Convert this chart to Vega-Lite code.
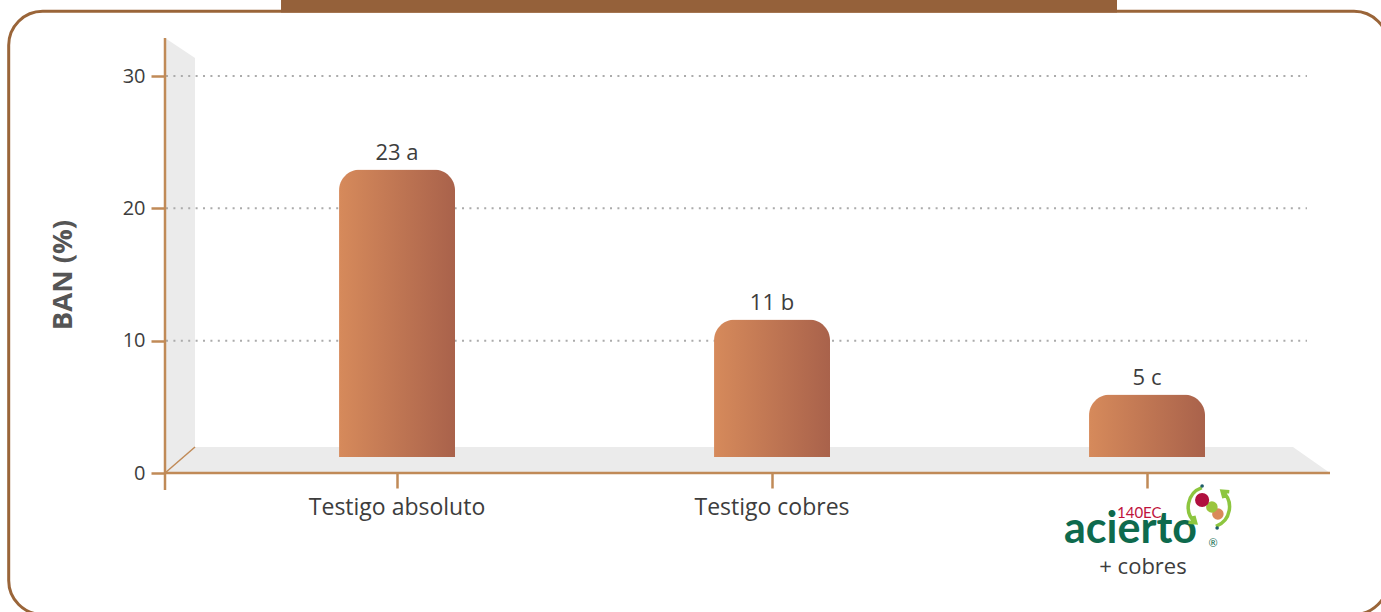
{
  "$schema": "https://vega.github.io/schema/vega-lite/v6.json",
  "width": 1165,
  "height": 397,
  "autosize": {"type": "none"},
  "padding": {"left": 165, "top": 76, "right": 51, "bottom": 139},
  "background": "white",
  "config": {"view": {"stroke": null}, "font": "Open Sans"},
  "datasets": {
    "tratamientos": [
      {"tratamiento": "Testigo absoluto", "ban": 23, "etiqueta": "23 a"},
      {"tratamiento": "Testigo cobres", "ban": 11, "etiqueta": "11 b"},
      {"tratamiento": "acierto 140EC + cobres", "ban": 5, "etiqueta": "5 c"}
    ],
    "pared": [
      {"x": 0.3813, "arriba": 32.87, "abajo": 0},
      {"x": 0.4613, "arriba": 31.36, "abajo": 1.965}
    ],
    "piso": [
      {"x": 0.3813, "arriba": 0, "abajo": 0},
      {"x": 0.4613, "arriba": 1.965, "abajo": 0},
      {"x": 3.3893, "arriba": 1.965, "abajo": 0},
      {"x": 3.488, "arriba": 0, "abajo": 0}
    ],
    "rejilla": [{"v": 10}, {"v": 20}, {"v": 30}],
    "uno": [{}]
  },
  "layer": [
    {
      "layer": [
        {
          "data": {"name": "rejilla"},
          "mark": {"type": "rule", "color": "#ABABAB", "strokeWidth": 2, "strokeDash": [2, 5.4], "opacity": 0},
          "encoding": {
            "x": {"datum": 0.384, "type": "quantitative", "scale": {"domain": [0.3813, 3.488], "nice": false, "zero": false}, "axis": null},
            "x2": {"datum": 3.4266},
            "y": {
              "field": "v", "type": "quantitative",
              "scale": {"domain": [0, 30], "nice": false, "zero": false},
              "axis": {
                "orient": "left",
                "title": "BAN (%)", "values": [0, 10, 20, 30], "domain": false, "grid": false,
                "tickColor": "#C08A57", "tickWidth": 2.5, "tickSize": 14,
                "labelFont": "Open Sans", "labelFontSize": 20, "labelColor": "#3d3d3d", "labelPadding": 6,
                "titleFont": "Open Sans", "titleFontSize": 27.5, "titleFontWeight": "bold", "titleColor": "#555555", "titlePadding": 45
              }
            }
          }
        },
        {
          "data": {"name": "uno"},
          "mark": {"type": "rect", "fill": "transparent", "stroke": "#9A6539", "strokeWidth": 3, "cornerRadius": 34},
          "encoding": {
            "x": {"datum": -0.0355, "type": "quantitative", "scale": {"domain": [0.3813, 3.488], "nice": false, "zero": false}, "axis": null},
            "x2": {"datum": 3.6427},
            "y": {"datum": -10.69, "type": "quantitative", "scale": {"domain": [0, 30], "nice": false, "zero": false}},
            "y2": {"datum": 34.89}
          }
        },
        {
          "data": {"name": "uno"},
          "mark": {"type": "rect", "color": "#95613A"},
          "encoding": {
            "x": {"datum": 0.6907, "type": "quantitative", "scale": {"domain": [0.3813, 3.488], "nice": false, "zero": false}, "axis": null},
            "x2": {"datum": 2.92},
            "y": {"datum": 34.8, "type": "quantitative", "scale": {"domain": [0, 30], "nice": false, "zero": false}},
            "y2": {"datum": 36.5}
          }
        },
        {
          "data": {"name": "pared"},
          "mark": {"type": "area", "color": "#EBEBEB", "opacity": 1},
          "encoding": {
            "x": {"field": "x", "type": "quantitative", "scale": {"domain": [0.3813, 3.488], "nice": false, "zero": false}, "axis": null},
            "y": {"field": "arriba", "type": "quantitative", "scale": {"domain": [0, 30], "nice": false, "zero": false}},
            "y2": {"field": "abajo"}
          }
        },
        {
          "data": {"name": "piso"},
          "mark": {"type": "area", "color": "#EBEBEB", "opacity": 1},
          "encoding": {
            "x": {"field": "x", "type": "quantitative", "scale": {"domain": [0.3813, 3.488], "nice": false, "zero": false}, "axis": null},
            "y": {"field": "arriba", "type": "quantitative", "scale": {"domain": [0, 30], "nice": false, "zero": false}},
            "y2": {"field": "abajo"}
          }
        },
        {
          "data": {"name": "rejilla"},
          "mark": {"type": "rule", "color": "#ABABAB", "strokeWidth": 2, "strokeDash": [2, 5.4]},
          "encoding": {
            "x": {"datum": 0.384, "type": "quantitative", "scale": {"domain": [0.3813, 3.488], "nice": false, "zero": false}, "axis": null},
            "x2": {"datum": 3.4266},
            "y": {"field": "v", "type": "quantitative", "scale": {"domain": [0, 30], "nice": false, "zero": false}}
          }
        },
        {
          "data": {"name": "uno"},
          "mark": {"type": "rule", "color": "#C08A57", "strokeWidth": 1.5},
          "encoding": {
            "x": {"datum": 0.3813, "type": "quantitative", "scale": {"domain": [0.3813, 3.488], "nice": false, "zero": false}, "axis": null},
            "x2": {"datum": 0.4613},
            "y": {"datum": 0, "type": "quantitative", "scale": {"domain": [0, 30], "nice": false, "zero": false}},
            "y2": {"datum": 1.965}
          }
        },
        {
          "data": {"name": "uno"},
          "mark": {"type": "rule", "color": "#C08A57", "strokeWidth": 2.5},
          "encoding": {
            "x": {"datum": 0.3813, "type": "quantitative", "scale": {"domain": [0.3813, 3.488], "nice": false, "zero": false}, "axis": null},
            "y": {"datum": -1.285, "type": "quantitative", "scale": {"domain": [0, 30], "nice": false, "zero": false}},
            "y2": {"datum": 32.87}
          }
        },
        {
          "data": {"name": "uno"},
          "mark": {"type": "rule", "color": "#C08A57", "strokeWidth": 2.5},
          "encoding": {
            "x": {"datum": 0.3813, "type": "quantitative", "scale": {"domain": [0.3813, 3.488], "nice": false, "zero": false}, "axis": null},
            "x2": {"datum": 3.488},
            "y": {"datum": 0, "type": "quantitative", "scale": {"domain": [0, 30], "nice": false, "zero": false}}
          }
        },
        {
          "data": {"name": "uno"},
          "mark": {"type": "text", "text": "acierto", "font": "Lato", "fontWeight": "bold", "fontSize": 43, "color": "#0E6A4D", "align": "center", "baseline": "alphabetic"},
          "encoding": {
            "x": {"datum": 2.956, "type": "quantitative", "scale": {"domain": [0.3813, 3.488], "nice": false, "zero": false}, "axis": null},
            "y": {"datum": -5.29, "type": "quantitative", "scale": {"domain": [0, 30], "nice": false, "zero": false}}
          }
        },
        {
          "data": {"name": "uno"},
          "mark": {"type": "text", "text": "140EC", "font": "Lato", "fontSize": 15, "color": "#C0143C", "align": "left", "baseline": "alphabetic"},
          "encoding": {
            "x": {"datum": 2.92, "type": "quantitative", "scale": {"domain": [0.3813, 3.488], "nice": false, "zero": false}, "axis": null},
            "y": {"datum": -3.4, "type": "quantitative", "scale": {"domain": [0, 30], "nice": false, "zero": false}}
          }
        },
        {
          "data": {"name": "uno"},
          "mark": {"type": "text", "text": "®", "font": "Lato", "fontSize": 11, "color": "#0E6A4D", "align": "center", "baseline": "middle"},
          "encoding": {
            "x": {"datum": 3.176, "type": "quantitative", "scale": {"domain": [0.3813, 3.488], "nice": false, "zero": false}, "axis": null},
            "y": {"datum": -5.4, "type": "quantitative", "scale": {"domain": [0, 30], "nice": false, "zero": false}}
          }
        },
        {
          "data": {"name": "uno"},
          "mark": {"type": "text", "text": "+ cobres", "font": "Open Sans", "fontSize": 22, "color": "#3d3d3d", "align": "center", "baseline": "alphabetic"},
          "encoding": {
            "x": {"datum": 2.9893, "type": "quantitative", "scale": {"domain": [0.3813, 3.488], "nice": false, "zero": false}, "axis": null},
            "y": {"datum": -7.64, "type": "quantitative", "scale": {"domain": [0, 30], "nice": false, "zero": false}}
          }
        },
        {
          "data": {"name": "uno"},
          "mark": {"type": "point", "shape": "circle", "filled": true, "opacity": 1, "size": 20, "color": "#0E6A4D"},
          "encoding": {
            "x": {"datum": 2.904, "type": "quantitative", "scale": {"domain": [0.3813, 3.488], "nice": false, "zero": false}, "axis": null},
            "y": {"datum": -3.02, "type": "quantitative", "scale": {"domain": [0, 30], "nice": false, "zero": false}}
          }
        },
        {
          "data": {"name": "uno"},
          "mark": {"type": "point", "shape": "M -0.34 -0.94 A 1 1 0 0 0 -0.64 0.77 M -0.73 0.43 L -0.64 0.77 L -0.99 0.74 M 0.34 0.94 A 1 1 0 0 0 0.64 -0.77 M 0.73 -0.43 L 0.64 -0.77 L 0.99 -0.74", "filled": false, "opacity": 1, "size": 1700, "stroke": "#8DC63F", "strokeWidth": 3.5},
          "encoding": {
            "x": {"datum": 3.165, "type": "quantitative", "scale": {"domain": [0.3813, 3.488], "nice": false, "zero": false}, "axis": null},
            "y": {"datum": -2.57, "type": "quantitative", "scale": {"domain": [0, 30], "nice": false, "zero": false}}
          }
        },
        {
          "data": {"name": "uno"},
          "mark": {"type": "point", "shape": "circle", "filled": true, "opacity": 1, "size": 133, "color": "#D9895A"},
          "encoding": {
            "x": {"datum": 3.189, "type": "quantitative", "scale": {"domain": [0.3813, 3.488], "nice": false, "zero": false}, "axis": null},
            "y": {"datum": -3.1, "type": "quantitative", "scale": {"domain": [0, 30], "nice": false, "zero": false}}
          }
        },
        {
          "data": {"name": "uno"},
          "mark": {"type": "point", "shape": "circle", "filled": true, "opacity": 1, "size": 133, "color": "#9BC53D"},
          "encoding": {
            "x": {"datum": 3.173, "type": "quantitative", "scale": {"domain": [0.3813, 3.488], "nice": false, "zero": false}, "axis": null},
            "y": {"datum": -2.57, "type": "quantitative", "scale": {"domain": [0, 30], "nice": false, "zero": false}}
          }
        },
        {
          "data": {"name": "uno"},
          "mark": {"type": "point", "shape": "circle", "filled": true, "opacity": 1, "size": 200, "color": "#B0103F"},
          "encoding": {
            "x": {"datum": 3.147, "type": "quantitative", "scale": {"domain": [0.3813, 3.488], "nice": false, "zero": false}, "axis": null},
            "y": {"datum": -2.04, "type": "quantitative", "scale": {"domain": [0, 30], "nice": false, "zero": false}}
          }
        },
        {
          "data": {"name": "uno"},
          "mark": {"type": "point", "shape": "circle", "filled": true, "opacity": 1, "size": 13, "color": "#1F5C6B"},
          "encoding": {
            "x": {"datum": 3.147, "type": "quantitative", "scale": {"domain": [0.3813, 3.488], "nice": false, "zero": false}, "axis": null},
            "y": {"datum": -0.98, "type": "quantitative", "scale": {"domain": [0, 30], "nice": false, "zero": false}}
          }
        },
        {
          "data": {"name": "uno"},
          "mark": {"type": "point", "shape": "circle", "filled": true, "opacity": 1, "size": 13, "color": "#1F5C6B"},
          "encoding": {
            "x": {"datum": 3.187, "type": "quantitative", "scale": {"domain": [0.3813, 3.488], "nice": false, "zero": false}, "axis": null},
            "y": {"datum": -4.16, "type": "quantitative", "scale": {"domain": [0, 30], "nice": false, "zero": false}}
          }
        }
      ]
    },
    {
      "data": {"name": "tratamientos"},
      "encoding": {
        "x": {
          "field": "tratamiento", "type": "nominal", "sort": null,
          "scale": {"paddingInner": 0.6907, "paddingOuter": 0.3987, "align": 0.582},
          "axis": {
            "title": null, "domain": false, "grid": false, "labelAngle": 0,
            "tickColor": "#C08A57", "tickWidth": 2.5, "tickSize": 15,
            "labelFont": "Open Sans", "labelFontSize": 23, "labelColor": "#3d3d3d", "labelPadding": 8,
            "labelExpr": "datum.value == 'acierto 140EC + cobres' ? '' : datum.label"
          }
        },
        "y": {"field": "ban", "type": "quantitative", "scale": {"domain": [-1.28, 30.48], "nice": false, "zero": false}, "axis": null}
      },
      "layer": [
        {
          "mark": {
            "type": "bar", "cornerRadiusTopLeft": 21, "cornerRadiusTopRight": 21,
            "color": {"gradient": "linear", "x1": 0, "x2": 1, "y1": 0, "y2": 0, "stops": [{"offset": 0, "color": "#D68A5B"}, {"offset": 1, "color": "#A9624B"}]}
          }
        },
        {
          "mark": {"type": "text", "dy": -10, "baseline": "alphabetic", "align": "center", "font": "Open Sans", "fontSize": 22, "color": "#3d3d3d"},
          "encoding": {"text": {"field": "etiqueta"}}
        }
      ]
    }
  ],
  "resolve": {"scale": {"x": "independent", "y": "independent"}}
}
